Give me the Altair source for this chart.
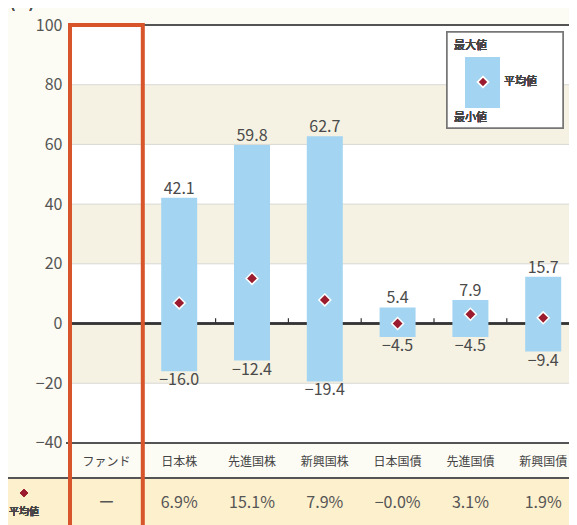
import altair as alt
import pandas as pd

# ---------------- data ----------------
categories = ["ファンド", "日本株", "先進国株", "新興国株", "日本国債", "先進国債", "新興国債"]
assets = ["日本株", "先進国株", "新興国株", "日本国債", "先進国債", "新興国債"]
max_vals = [42.1, 59.8, 62.7, 5.4, 7.9, 15.7]
min_vals = [-16.0, -12.4, -19.4, -4.5, -4.5, -9.4]
mean_vals = [6.9, 15.1, 7.9, -0.0, 3.1, 1.9]
mean_labels = ["ー", "6.9%", "15.1%", "7.9%", "−0.0%", "3.1%", "1.9%"]
y_ticks = [-40, -20, 0, 20, 40, 60, 80, 100]
grid_vals = [-20, 20, 40, 60, 80]
shade_lo = [60, 20, -20]
shade_hi = [80, 40, 0]
period_label = "2017年12月～2022年11月"

# ---------------- layout constants ----------------
FONT = "Noto Sans CJK JP"
W, H = 499, 500
XR = 509.6            # x range (last column runs off the page like the original)
Y_DOMAIN = [-67.5, 100]
CAT_ROW = -46.4
TABLE_LINE = -51.8
MEAN_ROW = -60.1
BAR_BLUE = "#a3d5f2"
DIAMOND = "#9a1c2e"
RED = "#d8552b"
TEXT = "#555555"

def fmt(v):
    s = f"{v:.1f}"
    return s.replace("-", "−")

bars = pd.DataFrame({
    "cat": assets,
    "max": max_vals,
    "min": min_vals,
    "mean": mean_vals,
    "max_label": [fmt(v) for v in max_vals],
    "min_label": [fmt(v) for v in min_vals],
})
cats_df = pd.DataFrame({"cat": categories, "mean_label": mean_labels})
shade_df = pd.DataFrame({"lo": shade_lo, "hi": shade_hi})
grid_df = pd.DataFrame({"v": grid_vals})
ticks_df = pd.DataFrame({"v": y_ticks})

xscale = alt.Scale(domain=categories, range=[0, XR], paddingInner=0, paddingOuter=0)
yscale = alt.Scale(domain=Y_DOMAIN, range=[H, 0], nice=False, zero=False)
X = alt.X("cat:N", scale=xscale, axis=None)

base = alt.Chart(ticks_df)

# white plot area + y axis
plot_bg = base.mark_rect(fill="white").encode(
    x=alt.value(0), x2=alt.value(XR),
    y=alt.Y("min(v):Q", scale=yscale,
            axis=alt.Axis(values=y_ticks, grid=False, domain=False, ticks=False,
                          labelFontSize=16, labelColor=TEXT, labelFont=FONT,
                          labelPadding=8, title=None)),
    y2="max(v):Q",
)

shade = alt.Chart(shade_df).mark_rect(fill="#f5f2e3").encode(
    x=alt.value(0), x2=alt.value(XR), y="lo:Q", y2="hi:Q")

grid = alt.Chart(grid_df).mark_rule(color="#d8d8d4", strokeWidth=1).encode(
    x=alt.value(0), x2=alt.value(XR), y="v:Q")

table_bg = base.mark_rect(fill="#fdf0cd").encode(
    x=alt.value(-62), x2=alt.value(XR), y=alt.datum(TABLE_LINE), y2=alt.datum(Y_DOMAIN[0]))

top_line = base.mark_rule(color="#555", strokeWidth=1.5).encode(
    x=alt.value(0), x2=alt.value(XR), y=alt.datum(100))
bottom_line = base.mark_rule(color="#555", strokeWidth=1.5).encode(
    x=alt.value(-4), x2=alt.value(XR), y=alt.datum(-40))
zero_line = base.mark_rule(color="#333", strokeWidth=1.5).encode(
    x=alt.value(0), x2=alt.value(XR), y=alt.datum(0))
table_line = base.mark_rule(color="#555", strokeWidth=1.5).encode(
    x=alt.value(-62), x2=alt.value(XR), y=alt.datum(TABLE_LINE))

zero_ticks = alt.Chart(bars).mark_rule(color="#333", strokeWidth=1.2).encode(
    x=alt.X("cat:N", scale=xscale, axis=None, bandPosition=0),
    y=alt.datum(0), y2=alt.datum(1.8))

bar = alt.Chart(bars).mark_bar(color=BAR_BLUE, width=36).encode(
    x=X, y="min:Q", y2="max:Q")

max_text = alt.Chart(bars).mark_text(baseline="bottom", dy=-1, fontSize=16,
                                     color="#4a4a4a", font=FONT).encode(
    x=X, y="max:Q", text="max_label:N")
min_text = alt.Chart(bars).mark_text(baseline="top", dy=1, fontSize=16,
                                     color="#4a4a4a", font=FONT).encode(
    x=X, y="min:Q", text="min_label:N")

diamonds = alt.Chart(bars).mark_point(shape="diamond", filled=True, size=140,
                                      color=DIAMOND, stroke="white",
                                      strokeWidth=1.5, opacity=1).encode(
    x=X, y="mean:Q")

cat_text = alt.Chart(cats_df).mark_text(fontSize=12, color="#444", font=FONT).encode(
    x=X, y=alt.datum(CAT_ROW), text="cat:N")

mean_text = alt.Chart(cats_df).mark_text(fontSize=16, color=TEXT, font=FONT).encode(
    x=X, y=alt.datum(MEAN_ROW), text="mean_label:N")

mean_key_d = base.mark_point(shape="diamond", filled=True, size=60, color=DIAMOND,
                             opacity=1).encode(x=alt.value(-46), y=alt.value(468))
mean_key_t = base.mark_text(text="平均値", fontSize=10, fontWeight="normal",
                            color="#444", font=FONT).encode(
    x=alt.value(-46), y=alt.value(487))

red_box = alt.Chart(cats_df[cats_df["cat"] == "ファンド"]).mark_rect(
    filled=False, stroke=RED, strokeWidth=4).encode(
    x=X, y=alt.datum(100), y2=alt.datum(-75))

# legend (decoration)
leg_box = base.mark_rect(fill="white", stroke="#777", strokeWidth=1.5).encode(
    x=alt.value(377), x2=alt.value(493), y=alt.value(7), y2=alt.value(103))
leg_bar = base.mark_rect(fill=BAR_BLUE).encode(
    x=alt.value(395), x2=alt.value(430), y=alt.value(32), y2=alt.value(83))
leg_d = base.mark_point(shape="diamond", filled=True, size=110, color=DIAMOND,
                        stroke="white", strokeWidth=1.5, opacity=1).encode(
    x=alt.value(413), y=alt.value(57))
leg_max = base.mark_text(text="最大値", align="left", fontSize=11, fontWeight="normal",
                         color="#444", font=FONT).encode(x=alt.value(384), y=alt.value(21))
leg_mean = base.mark_text(text="平均値", align="left", fontSize=11, fontWeight="normal",
                          color="#444", font=FONT).encode(x=alt.value(434), y=alt.value(57))
leg_min = base.mark_text(text="最小値", align="left", fontSize=11, fontWeight="normal",
                         color="#444", font=FONT).encode(x=alt.value(384), y=alt.value(93))

# header (mostly above the page, as in the original)
hdr_pct = base.mark_text(text="(%)", fontSize=15, color=TEXT, font=FONT).encode(
    x=alt.value(-48), y=alt.value(-22))
hdr_rect = base.mark_rect(fill=BAR_BLUE).encode(
    x=alt.value(3), x2=alt.value(40), y=alt.value(-33), y2=alt.value(-19))
hdr_text = base.mark_text(text=period_label, align="left", baseline="alphabetic",
                          fontSize=20, color="#333", font=FONT).encode(
    x=alt.value(52), y=alt.value(-20))

chart = alt.layer(
    plot_bg, shade, grid, table_bg,
    top_line, bottom_line, zero_line, table_line,
    bar, zero_ticks, max_text, min_text, diamonds,
    cat_text, mean_text, mean_key_d, mean_key_t,
    red_box,
    leg_box, leg_bar, leg_d, leg_max, leg_mean, leg_min,
    hdr_pct, hdr_rect, hdr_text,
).properties(
    width=W, height=H,
    autosize=alt.AutoSizeParams(type="none"),
    padding={"left": 62, "top": 17, "right": 0, "bottom": 0},
    background="#fcfbf4",
).configure_view(stroke=None, fill=None)

chart.save("out.html", embed_options={"renderer": "svg", "actions": False})
